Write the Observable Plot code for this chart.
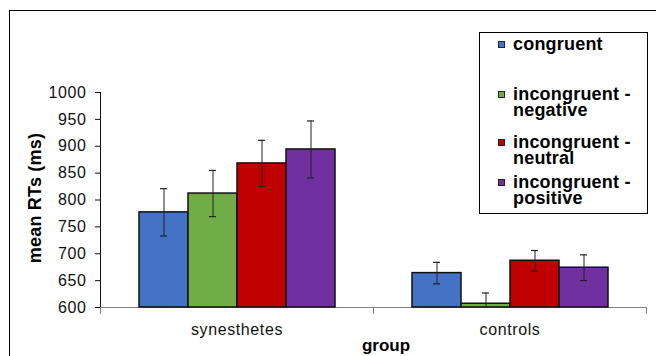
<!DOCTYPE html>
<html>
<head>
<meta charset="utf-8">
<script src="https://cdn.jsdelivr.net/npm/d3@7"></script>
<script src="https://cdn.jsdelivr.net/npm/@observablehq/plot@0.6"></script>
<style>
  html, body { margin: 0; padding: 0; background: #fff; }
  #wrap { position: relative; width: 656px; height: 356px; overflow: hidden; font-family: "Liberation Sans", Arial, sans-serif; }
  #frame { position: absolute; left: 9px; top: 10px; width: 1000px; height: 1000px; border-left: 1px solid #000; border-top: 1px solid #000; }
  #chart { position: absolute; left: 0; top: 0; }
  #chart svg text { letter-spacing: 0.6px; }
  .ytitle { position: absolute; left: -45px; top: 188px; width: 160px; height: 20px; line-height: 20px; text-align: center; transform: rotate(-90deg); font-weight: bold; font-size: 18px; letter-spacing: 0.2px; color: #000; white-space: nowrap; }
  .xtitle { position: absolute; left: 336px; top: 336px; width: 100px; text-align: center; font-weight: bold; font-size: 17px; line-height: 20px; color: #000; }
  #legend { position: absolute; left: 479px; top: 32px; width: 167px; height: 180px; border: 1px solid #000; background: #fff; }
  .item { position: absolute; left: 0; }
  .sw { position: absolute; left: 18px; width: 5px; height: 5px; border: 1px solid #222; }
  .lt { position: absolute; left: 33px; font-weight: bold; font-size: 18px; line-height: 16px; letter-spacing: 0.2px; color: #000; white-space: nowrap; }
</style>
</head>
<body>
<div id="wrap">
  <div id="frame"></div>
  <div id="chart"></div>
  <div class="ytitle">mean RTs (ms)</div>
  <div class="xtitle">group</div>
  <div id="legend"></div>
</div>
<script>
const groups = ["synesthetes", "controls"];
const conditions = ["congruent", "incongruent - negative", "incongruent - neutral", "incongruent - positive"];
const legendLines = [["congruent"], ["incongruent -", "negative"], ["incongruent -", "neutral"], ["incongruent -", "positive"]];
const colors = ["#4472C4", "#70AD47", "#C00000", "#7030A0"];
const synMeans = [777, 812, 868, 894];
const synErr = [44, 43, 43, 53];
const ctlMeans = [664, 607, 687, 674];
const ctlErr = [20, 20, 19, 24];
const yTicks = [600, 650, 700, 750, 800, 850, 900, 950, 1000];

const rows = [];
conditions.forEach((c, i) => rows.push({group: groups[0], condition: c, mean: synMeans[i], lo: synMeans[i] - synErr[i], hi: synMeans[i] + synErr[i]}));
conditions.forEach((c, i) => rows.push({group: groups[1], condition: c, mean: ctlMeans[i], lo: ctlMeans[i] - ctlErr[i], hi: ctlMeans[i] + ctlErr[i]}));

const base = yTicks[0];
const tickShape = {draw(context, l) { context.moveTo(0, 0); context.lineTo(0, -l); }};

const chart = Plot.plot({
  width: 656, height: 356,
  marginLeft: 100, marginRight: 10, marginTop: 92, marginBottom: 49,
  style: {fontFamily: "'Liberation Sans', Arial, sans-serif", fontSize: "16px", color: "#111", background: "transparent"},
  fx: {domain: groups, padding: 0, label: null, tickSize: 0, tickPadding: 16},
  x: {domain: conditions, padding: 0, inset: 37.5, axis: null},
  y: {domain: [yTicks[0], yTicks[yTicks.length - 1]], ticks: yTicks, tickFormat: d => String(d), tickSize: 5, tickPadding: 9, label: null, line: true},
  color: {domain: conditions, range: colors},
  marks: [
    Plot.ruleY([base], {stroke: "#808080"}),
    Plot.barY(rows, {fx: "group", x: "condition", y1: base, y2: "mean", fill: "condition", stroke: "#111", strokeWidth: 1.5}),
    Plot.ruleX(rows, {fx: "group", x: "condition", y1: "lo", y2: "hi", stroke: "#222", strokeWidth: 1, clip: true}),
    Plot.tickY(rows, {fx: "group", x: "condition", y: "hi", insetLeft: 21, insetRight: 21, stroke: "#222", strokeWidth: 1.2, clip: true}),
    Plot.tickY(rows, {fx: "group", x: "condition", y: "lo", insetLeft: 21, insetRight: 21, stroke: "#222", strokeWidth: 1.2, clip: true}),
    Plot.vector(groups, {fx: d => d, frameAnchor: "bottom-left", length: 6, rotate: 180, anchor: "start", shape: tickShape, stroke: "#808080", strokeWidth: 1}),
    Plot.vector([groups[groups.length - 1]], {fx: d => d, frameAnchor: "bottom-right", length: 6, rotate: 180, anchor: "start", shape: tickShape, stroke: "#808080", strokeWidth: 1})
  ]
});
document.getElementById("chart").appendChild(chart);

// axis styling
d3.select(chart).selectAll('[aria-label="y-axis tick"], [aria-label="y-axis line"]').attr("stroke", "#808080");

// legend
const tops = [3, 53, 101, 141];
const legend = d3.select("#legend");
conditions.forEach((c, i) => {
  const it = legend.append("div").attr("class", "item").style("top", tops[i] + "px");
  it.append("div").attr("class", "sw").style("top", "5px").style("background", colors[i]);
  legendLines[i].forEach((t, j) => {
    it.append("div").attr("class", "lt").style("top", (j * 16) + "px").text(t);
  });
});
</script>
</body>
</html>
